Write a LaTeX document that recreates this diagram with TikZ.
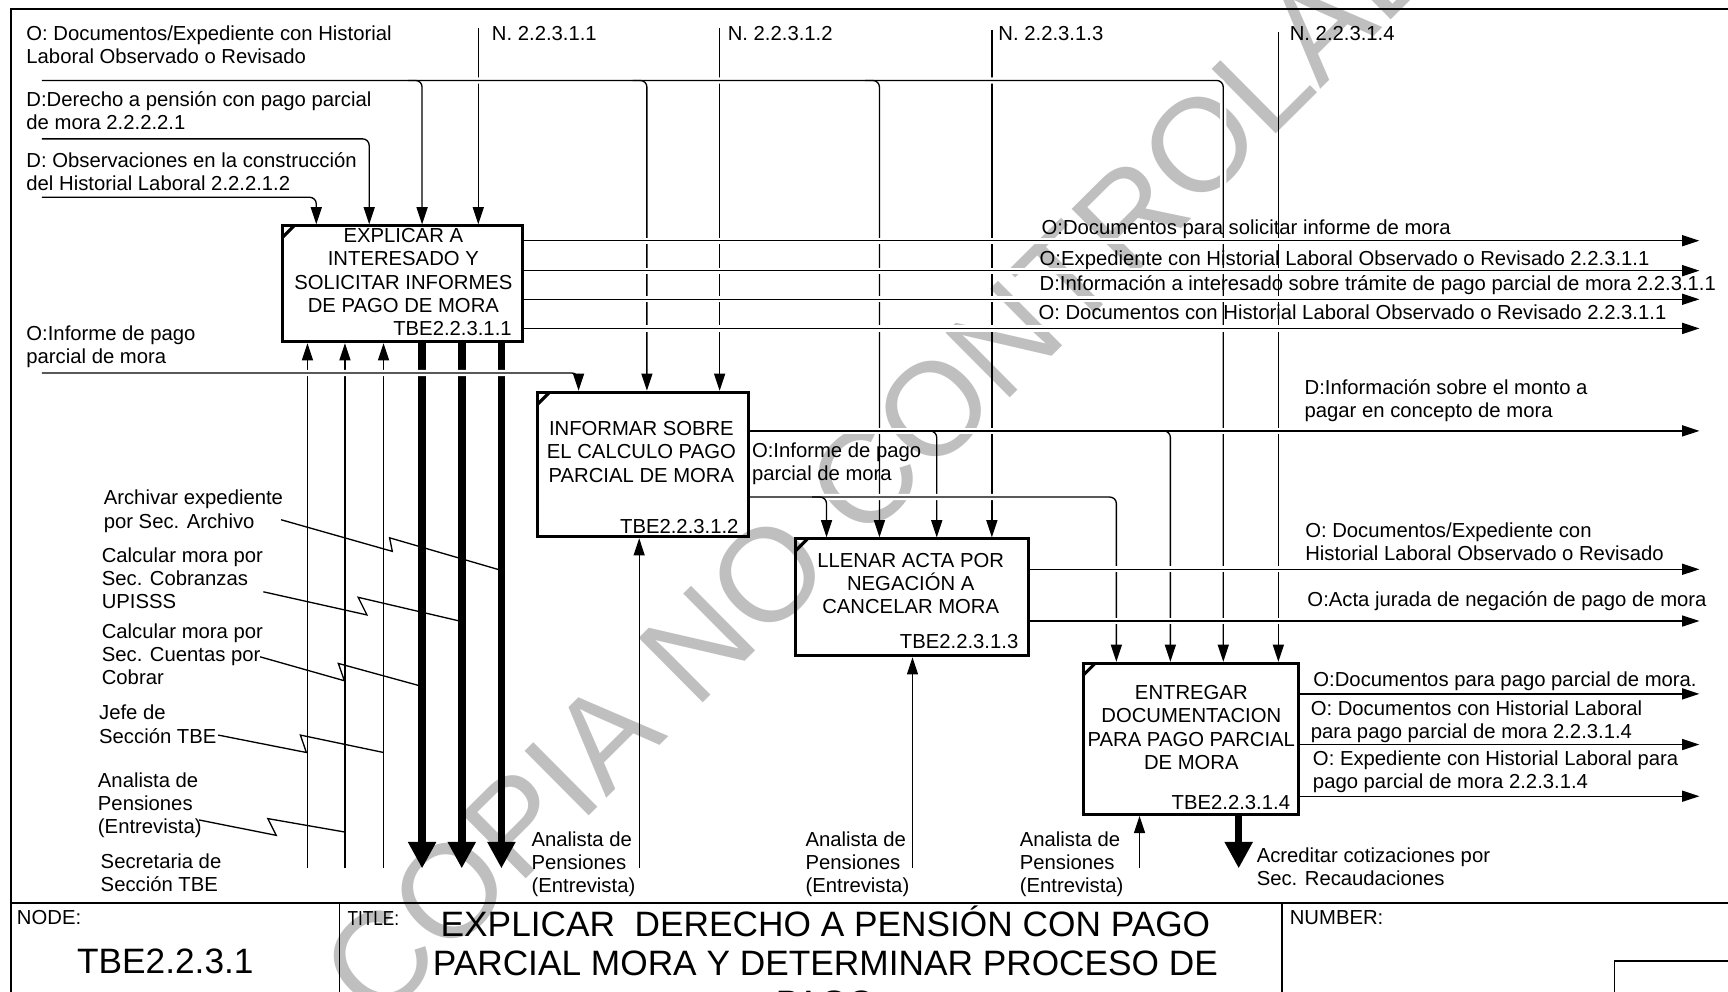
\documentclass[tikz,border=0pt]{standalone}
\usepackage{fontspec}
\setmainfont{Liberation Sans}
\usetikzlibrary{arrows.meta,calc}
\pgfdeclarelayer{wmark}
\pgfdeclarelayer{lines}
\pgfsetlayers{wmark,lines,main}
\newcommand\labf{\fontsize{9.2}{10.5}\selectfont}
\newcommand\ttlf{\fontsize{16}{17.5}\selectfont}
\begin{document}
\begin{tikzpicture}[x=0.5pt,y=-0.5pt,
  ln/.style={line width=0.6pt},
  arr/.style={line width=0.6pt,-{Triangle[length=7.8pt,width=5pt]}},
  big/.style={line width=3.4pt,-{Triangle[length=12pt,width=12pt]}},
  halo/.style={preaction={draw=white,line width=2.8pt,-}},
  rcorner/.style={rounded corners=3pt},
  box/.style={draw,line width=1.4pt,inner sep=0pt},
  lbl/.style={anchor=north west,inner sep=0pt,align=left,font=\labf},
  btxt/.style={anchor=north,inner sep=0pt,align=center,font=\labf},
  bid/.style={anchor=north east,inner sep=0pt,font=\labf},
  frame/.style={line width=0.75pt}]
\useasboundingbox (0,0) rectangle (1568,900);

% ---------- boxes ----------
\node[box,minimum width=109pt,minimum height=52.5pt] (b1) at (365,257.5) {};
\node[box,minimum width=95.5pt,minimum height=65.5pt] (b2) at (583.5,421.5) {};
\node[box,minimum width=105.5pt,minimum height=53pt] (b3) at (827.5,542) {};
\node[box,minimum width=97.5pt,minimum height=68.5pt] (b4) at (1080.5,670.5) {};
\foreach \b in {b1,b2,b3,b4}
  \draw[line width=1.4pt] ($(\b.north west)+(1.5,12)$) -- ($(\b.north west)+(12,1.5)$);

\node[btxt] (b1t) at (366,207) {EXPLICAR A\\INTERESADO Y\\SOLICITAR INFORMES\\DE PAGO DE MORA};
\node[bid] (b1id) at (464.7,291.4) {TBE2.2.3.1.1};
\node[btxt] (b2t) at (582,382.2) {INFORMAR SOBRE\\EL CALCULO PAGO\\PARCIAL DE MORA};
\node[bid] (b2id) at (670.5,470.4) {TBE2.2.3.1.2};
\node[btxt] (b3t) at (826.4,501.8) {LLENAR ACTA POR\\NEGACIÓN A\\CANCELAR MORA};
\node[bid] (b3id) at (924.4,575) {TBE2.2.3.1.3};
\node[btxt] (b4t) at (1081,621.7) {ENTREGAR\\DOCUMENTACION\\PARA PAGO PARCIAL\\DE MORA};
\node[bid] (b4id) at (1171,721.4) {TBE2.2.3.1.4};

% ---------- watermark ----------
\begin{pgfonlayer}{wmark}
\node[rotate=44.8,text=black!25,inner sep=0pt,font=\fontsize{60}{60}\selectfont] (wm) at (829,390) {COPIA NO CONTROLADA};
\end{pgfonlayer}

% ---------- connectors ----------
\begin{pgfonlayer}{lines}
\draw[frame] (10,905) -- (10,8) -- (1575,8);
\draw[frame] (10,819.5) -- (1575,819.5);
\draw[frame] (308,819.5) -- (308,905);
\draw[frame] (1163,819.5) -- (1163,905);
\draw[frame] (1465,905) -- (1465,872) -- (1575,872);

% controls from N.
\draw[arr] (434,25) -- (b1.north -| 434,0);
\draw[arr] (653,25) -- (b2.north -| 653,0);
\draw[arr] (900,27) -- (b3.north -| 900,0);
\draw[arr] (1160,29) -- (b4.north -| 1160,0);

% mechanisms
\draw[arr] (279,788) -- (b1.south -| 279,0);
\draw[arr] (313,788) -- (b1.south -| 313,0);
\draw[arr] (348,788) -- (b1.south -| 348,0);
\draw[big] (b1.south -| 383,0) -- (383,788);
\draw[big] (b1.south -| 419,0) -- (419,788);
\draw[big] (b1.south -| 455,0) -- (455,788);
\draw[arr] (580,788) -- (b2.south -| 580,0);
\draw[arr] (828,788) -- (b3.south -| 828,0);
\draw[arr] (1034,788) -- (b4.south -| 1034,0);
\draw[big] (b4.south -| 1124,0) -- (1124,788);

% O: Documentos/Expediente (top line with branches)
\draw[arr,halo,rcorner] (38,73) -| (b4.north -| 1110,0);
\draw[arr,rcorner] (370,73) -| (b1.north -| 383,0);
\draw[arr,rcorner] (574,73) -| (b2.north -| 587,0);
\draw[arr,rcorner] (785,73) -| (b3.north -| 798,0);

% D inputs
\draw[arr,rcorner] (38,126) -| (b1.north -| 335,0);
\draw[arr,rcorner] (38,179) -| (b1.north -| 287,0);

% box1 outputs
\foreach \yy in {218.4,245.6,271.6,298}
  \draw[arr,halo] (b1.east |- 0,\yy) -- (1542,\yy);

% O:Informe input
\draw[arr,halo,rcorner] (38,338.5) -| (b2.north -| 525,0);

% box2 outputs
\draw[arr,halo] (b2.east |- 0,391) -- (1542,391);
\draw[arr,rcorner] (837,391) -| (b3.north -| 850,0);
\draw[arr,rcorner] (1049,391) -| (b4.north -| 1062,0);
\draw[arr,halo,rcorner] (b2.east |- 0,451) -| (b4.north -| 1013,0);
\draw[arr,rcorner] (737,451) -| (b3.north -| 750,0);

% box3 outputs
\draw[arr,halo] (b3.east |- 0,516.6) -- (1542,516.6);
\draw[arr,halo] (b3.east |- 0,563.5) -- (1542,563.5);

% box4 outputs
\foreach \yy in {629.6,675.6,722.5}
  \draw[arr,halo] (b4.east |- 0,\yy) -- (1542,\yy);

% squiggles from mechanism labels
\draw[ln] (255,471.6) -- (356,500.3) -- (353.5,488) -- (453,517);
\draw[ln] (239,537) -- (333,558) -- (325,542) -- (417,563.5);
\draw[ln] (236,596) -- (312.5,617.7) -- (307,602) -- (381,622.3);
\draw[ln] (198,667) -- (278,682.8) -- (272.6,667) -- (348,682.8);
\draw[ln] (180.5,744) -- (250.7,758) -- (243,742.8) -- (313,755);
\end{pgfonlayer}

% ---------- labels ----------
\node[lbl] (l1) at (23.6,23.2) {O: Documentos/Expediente con Historial\\Laboral Observado o Revisado};
\node[lbl] (l2) at (23.6,83) {D:Derecho a pensión con pago parcial\\de mora 2.2.2.2.1};
\node[lbl] (l3) at (23.6,138) {D: Observaciones en la construcción\\del Historial Laboral 2.2.2.1.2};
\node[lbl] (l4) at (23.6,295.4) {O:Informe de pago\\parcial de mora};
\node[lbl] (n1) at (446,23.2) {N. 2.2.3.1.1};
\node[lbl] (n2) at (660,23.2) {N. 2.2.3.1.2};
\node[lbl] (n3) at (905.6,23.2) {N. 2.2.3.1.3};
\node[lbl] (n4) at (1170,23.2) {N. 2.2.3.1.4};

\node[lbl] (o11) at (944.8,198.7) {O:Documentos para solicitar informe de mora};
\node[lbl] (o12) at (943,227.4) {O:Expediente con Historial Laboral Observado o Revisado 2.2.3.1.1};
\node[lbl] (o13) at (943,250) {D:Información a interesado sobre trámite de pago parcial de mora 2.2.3.1.1};
\node[lbl] (o14) at (942,275.8) {O: Documentos con Historial Laboral Observado o Revisado 2.2.3.1.1};

\node[lbl] (o21) at (1183.4,344) {D:Información sobre el monto a\\pagar en concepto de mora};
\node[lbl] (o22) at (682,401.7) {O:Informe de pago\\parcial de mora};

\node[lbl] (o31) at (1184,473.6) {O: Documentos/Expediente con\\Historial Laboral Observado o Revisado};
\node[lbl] (o32) at (1186,536.4) {O:Acta jurada de negación de pago de mora};

\node[lbl] (o41) at (1191.4,609) {O:Documentos para pago parcial de mora.};
\node[lbl] (o42) at (1189,635.1) {O: Documentos con Historial Laboral\\para pago parcial de mora 2.2.3.1.4};
\node[lbl] (o43) at (1191,681) {O: Expediente con Historial Laboral para\\pago parcial de mora 2.2.3.1.4};

\node[lbl] (m1) at (93.8,444.5) {Archivar expediente\\por Sec. Archivo};
\node[lbl] (m2) at (92,496.4) {Calcular mora por\\Sec. Cobranzas\\UPISSS};
\node[lbl] (m3) at (92,565.3) {Calcular mora por\\Sec. Cuentas por\\Cobrar};
\node[lbl] (m4) at (89.6,639.5) {Jefe de\\Sección TBE};
\node[lbl] (m5) at (88.5,700.9) {Analista de\\Pensiones\\(Entrevista)};
\node[lbl] (m6) at (91,774) {Secretaria de\\Sección TBE};

\node[lbl] (m7) at (482,754) {Analista de\\Pensiones\\(Entrevista)};
\node[lbl] (m8) at (730.6,754) {Analista de\\Pensiones\\(Entrevista)};
\node[lbl] (m9) at (925,754) {Analista de\\Pensiones\\(Entrevista)};
\node[lbl] (m10) at (1140,768.7) {Acreditar cotizaciones por\\Sec. Recaudaciones};

% ---------- footer ----------
\node[lbl] (fnode) at (15,825.4) {NODE:};
\node[anchor=base,inner sep=0pt,font=\ttlf] (fnum) at (150,883.5) {TBE2.2.3.1};
\node[anchor=base west,inner sep=0pt,font=\labf,xscale=0.85] (ftitle) at (315,839.5) {TITLE:};
\node[anchor=base,inner sep=0pt,font=\ttlf] (t1) at (749,849.5) {EXPLICAR~ DERECHO A PENSIÓN CON PAGO};
\node[anchor=base,inner sep=0pt,font=\ttlf] (t2) at (749,885.5) {PARCIAL MORA Y DETERMINAR PROCESO DE};
\node[anchor=base,inner sep=0pt,font=\ttlf] (t3) at (749,921.5) {PAGO};
\node[lbl] (fnumber) at (1170,825.4) {NUMBER:};
\end{tikzpicture}
\end{document}
